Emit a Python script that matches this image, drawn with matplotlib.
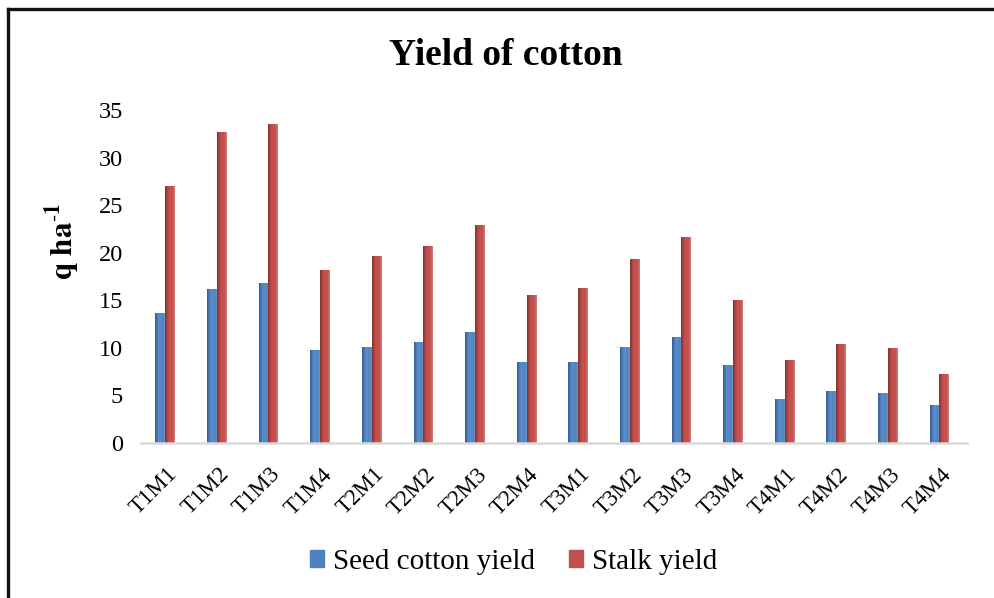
import numpy as np
import matplotlib
matplotlib.use('Agg')
import matplotlib.pyplot as plt
from matplotlib.lines import Line2D
from matplotlib.patches import Patch
from matplotlib.colors import LinearSegmentedColormap

plt.rcParams['font.family'] = ['Liberation Serif', 'DejaVu Serif']
plt.rcParams['mathtext.fontset'] = 'stix'

# data
treatments = ['T1M1', 'T1M2', 'T1M3', 'T1M4', 'T2M1', 'T2M2', 'T2M3', 'T2M4',
              'T3M1', 'T3M2', 'T3M3', 'T3M4', 'T4M1', 'T4M2', 'T4M3', 'T4M4']
seed_cotton = [13.7, 16.2, 16.8, 9.8, 10.1, 10.6, 11.7, 8.5,
               8.55, 10.05, 11.1, 8.2, 4.6, 5.5, 5.3, 4.0]
stalk = [27.0, 32.7, 33.5, 18.2, 19.7, 20.7, 22.9, 15.6,
         16.3, 19.3, 21.6, 15.0, 8.7, 10.4, 10.0, 7.3]

blue = '#4F81BD'
red = '#C0504D'

# cylinder-like shading across each bar, like the Excel original
blue_shade = LinearSegmentedColormap.from_list(
    'b', ['#34588a', '#4f81bd', '#5d8fcc', '#4f81bd', '#6a95c9'])
red_shade = LinearSegmentedColormap.from_list(
    'r', ['#7e3030', '#b44846', '#c9524f', '#c0504d', '#d47d7a'])


def shade_bars(ax, bars, cmap):
    grad = np.linspace(0, 1, 64).reshape(1, -1)
    for b in bars:
        x0, y0 = b.get_x(), b.get_y()
        im = ax.imshow(grad, cmap=cmap, aspect='auto', zorder=4,
                       extent=(x0, x0 + b.get_width(), y0, y0 + b.get_height()),
                       interpolation='bicubic')
        im.set_clip_path(b)


fig = plt.figure(figsize=(9.95, 5.98), dpi=100)
ax = fig.add_axes([0.1417, 0.2592, 0.830, 0.5569])

x = np.arange(len(treatments))
w = 0.19
b1 = ax.bar(x - w / 2 - 0.03, seed_cotton, width=w, color=blue, zorder=3)
b2 = ax.bar(x + w / 2 - 0.03, stalk, width=w, color=red, zorder=3)
shade_bars(ax, b1, blue_shade)
shade_bars(ax, b2, red_shade)

ax.set_xlim(-0.5, len(treatments) - 0.5)
ax.set_ylim(0, 35)
ax.set_yticks(range(0, 36, 5))
ax.set_xticks(x)
ax.set_xticklabels(treatments, rotation=45, ha='right', rotation_mode='anchor')
ax.tick_params(axis='y', length=0, labelsize=17.5, pad=13)
ax.tick_params(axis='x', length=0, labelsize=16.5, pad=15)

for s in ['top', 'right', 'left']:
    ax.spines[s].set_visible(False)
ax.spines['bottom'].set_color('#D9D9D9')
ax.spines['bottom'].set_linewidth(1.8)
ax.spines['bottom'].set_zorder(5)

fig.text(62 / 995, 1 - 241 / 598, r'$\mathbf{q\ ha^{\text{-}1}}$', rotation=90,
         ha='center', va='center', fontsize=22.5)

fig.text(0.508, 0.908, 'Yield of cotton', ha='center', va='center',
         fontsize=27, fontweight='bold')

handles = [Patch(color=blue), Patch(color=red)]
fig.legend(handles, ['Seed cotton yield', 'Stalk yield'], loc='center',
           bbox_to_anchor=(0.516, 0.06), ncol=2, frameon=False, fontsize=21,
           handlelength=0.5, handleheight=0.5, handletextpad=0.3,
           columnspacing=1.15)

# border of the chart area (cropped on right and bottom)
fig.add_artist(Line2D([0.0085, 1.0], [0.985, 0.985], transform=fig.transFigure,
                      color='#111111', lw=2.4))
fig.add_artist(Line2D([0.0085, 0.0085], [0.0, 0.985], transform=fig.transFigure,
                      color='#111111', lw=2.4))

fig.savefig('out.png', dpi=100)
